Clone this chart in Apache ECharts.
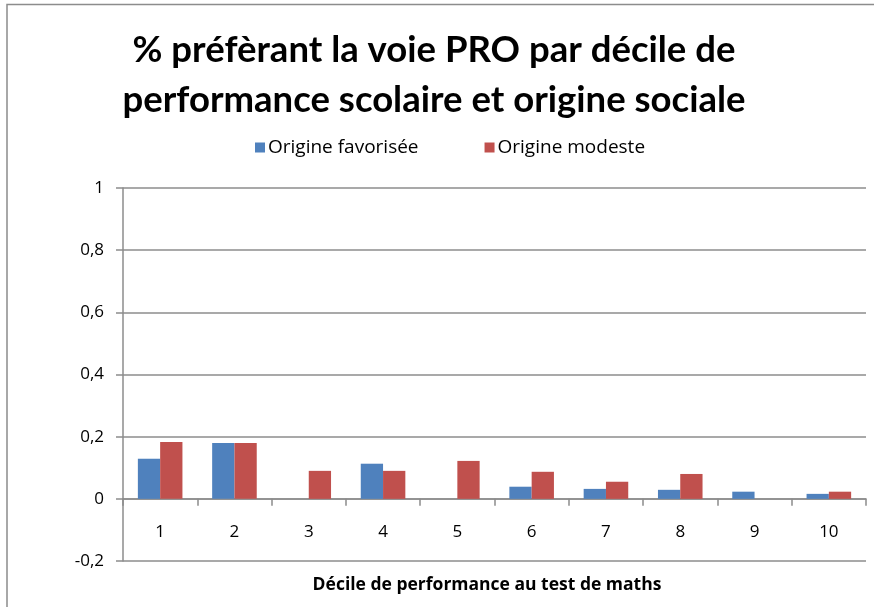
<!DOCTYPE html>
<html>
<head>
<meta charset="utf-8">
<script src="https://cdn.jsdelivr.net/npm/echarts@6/dist/echarts.min.js"></script>
<style>
html, body { margin: 0; padding: 0; background: #fff; }
#chart { width: 874px; height: 607px; }
</style>
</head>
<body>
<div id="chart"></div>
<script>
// données
var deciles = ['1', '2', '3', '4', '5', '6', '7', '8', '9', '10'];
var favorisee = [0.129, 0.180, 0, 0.113, 0, 0.039, 0.032, 0.029, 0.023, 0.016];
var modeste = [0.183, 0.180, 0.090, 0.090, 0.122, 0.087, 0.055, 0.080, 0, 0.023];

var chart = echarts.init(document.getElementById('chart'));

var option = {
  backgroundColor: '#fff',
  animation: false,
  textStyle: { fontFamily: 'Open Sans' },
  graphic: [
    {
      // cadre du graphique
      type: 'rect',
      shape: { x: 7, y: 4.5, width: 900, height: 700 },
      style: { fill: 'none', stroke: '#8c8c8c', lineWidth: 1.5 }
    }
  ],
  title: [
    {
      text: '% préfèrant la voie PRO par décile de\nperformance scolaire et origine sociale',
      left: 429,
      top: 20,
      textAlign: 'center',
      textStyle: { fontSize: 36.5, fontWeight: 'bold', color: '#000', lineHeight: 50, fontFamily: 'Lato' }
    },
    {
      text: 'Décile de performance au test de maths',
      left: 482,
      top: 571,
      textAlign: 'center',
      textStyle: { fontSize: 17.5, fontWeight: 'bold', color: '#000', fontFamily: 'Open Sans' }
    }
  ],
  legend: {
    left: 250,
    top: 133,
    itemWidth: 10,
    itemHeight: 10,
    itemGap: 66,
    icon: 'rect',
    textStyle: { fontSize: 19, color: '#000', padding: [0, 0, 0, -2] },
    data: ['Origine favorisée', 'Origine modeste']
  },
  grid: {
    left: 123,
    right: 8,
    top: 188,
    bottom: 46,
    containLabel: false
  },
  xAxis: {
    type: 'category',
    data: deciles,
    axisLine: { onZero: true, lineStyle: { color: '#8c8c8c', width: 1.5 } },
    axisTick: { show: true, length: 7, lineStyle: { color: '#8c8c8c', width: 1.5 } },
    // les étiquettes restent au bas de la grille : on les remonte sous la ligne du zéro
    axisLabel: { fontSize: 17, color: '#000', margin: -37 },
    splitLine: { show: false }
  },
  yAxis: {
    type: 'value',
    min: -0.2,
    max: 1,
    interval: 0.2,
    axisLine: { show: true, lineStyle: { color: '#8c8c8c', width: 1.5 } },
    axisTick: { show: true, inside: false, length: 7, lineStyle: { color: '#8c8c8c', width: 1.5 } },
    axisLabel: {
      fontSize: 17,
      color: '#000',
      margin: 19,
      formatter: function (v) {
        return String(Math.round(v * 10) / 10).replace('.', ',');
      }
    },
    splitLine: { show: true, lineStyle: { color: '#8c8c8c', width: 1.5 } }
  },
  series: [
    {
      name: 'Origine favorisée',
      type: 'bar',
      data: favorisee,
      barGap: '0%',
      barCategoryGap: '40%',
      itemStyle: { color: '#4f81bd' }
    },
    {
      name: 'Origine modeste',
      type: 'bar',
      data: modeste,
      barGap: '0%',
      barCategoryGap: '40%',
      itemStyle: { color: '#c0504d' }
    }
  ]
};

chart.setOption(option);
</script>
</body>
</html>
